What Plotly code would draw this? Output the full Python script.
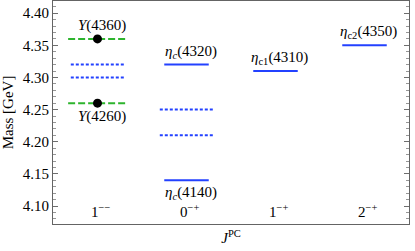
import plotly.graph_objects as go

categories = ["1<sup>−−</sup>", "0<sup>−+</sup>", "1<sup>−+</sup>", "2<sup>−+</sup>"]
cat_pos = [1, 2, 3, 4]
cat_label_mass = 4.093

# experimental Y states (green dashed with dots)
exp_cat = [1, 1]
exp_mass = [4.36, 4.26]
exp_labels = ["<i>Y</i>(4360)", "<i>Y</i>(4260)"]
exp_label_side = [1, -1]

# predicted levels, solid
solid_cat = [2, 2, 3, 4]
solid_mass = [4.32, 4.14, 4.31, 4.35]
solid_labels = ["<i>η</i><sub><i>c</i></sub>(4320)", "<i>η</i><sub><i>c</i></sub>(4140)",
                "<i>η</i><sub>c1</sub>(4310)", "<i>η</i><sub>c2</sub>(4350)"]
solid_label_side = [1, -1, 1, 1]

# predicted levels, dotted
dot_cat = [1, 1, 2, 2]
dot_mass = [4.32, 4.30, 4.25, 4.21]

GREEN = "rgb(45,180,45)"
BLUE = "rgb(35,65,255)"
FONT = "Liberation Serif"

fig = go.Figure()

def add_level(c, m, color, dash, half):
    fig.add_trace(go.Scatter(x=[c - half, c + half], y=[m, m], mode="lines",
                             line=dict(color=color, width=2, dash=dash),
                             showlegend=False, hoverinfo="skip"))

for c, m in zip(dot_cat, dot_mass):
    add_level(c, m, BLUE, "3px,2px", 0.3)
for c, m in zip(solid_cat, solid_mass):
    add_level(c, m, BLUE, "solid", 0.25)
for c, m in zip(exp_cat, exp_mass):
    add_level(c, m, GREEN, "7px,3px", 0.33)

fig.add_trace(go.Scatter(x=exp_cat, y=exp_mass, mode="markers",
                         marker=dict(color="black", size=9),
                         showlegend=False, hoverinfo="skip"))

for c, m, t, s in zip(exp_cat + solid_cat, exp_mass + solid_mass,
                      exp_labels + solid_labels, exp_label_side + solid_label_side):
    fig.add_annotation(x=c + 0.05, y=m, text=t, showarrow=False,
                       yshift=13 * s, font=dict(size=15, color="black", family=FONT))

for c, t in zip(cat_pos, categories):
    fig.add_annotation(x=c + 0.03, y=cat_label_mass, text=t, showarrow=False,
                       font=dict(size=15, color="black", family=FONT))

fig.update_layout(
    template="none",
    width=415, height=251,
    margin=dict(l=53, r=6, t=1, b=27),
    plot_bgcolor="white", paper_bgcolor="white",
    font=dict(family=FONT, size=15, color="black"),
    xaxis=dict(range=[0.5, 4.5], showticklabels=False, ticks="", showgrid=False,
               zeroline=False, showline=True, linecolor="rgb(100,100,100)",
               linewidth=1, mirror=True,
               title=dict(text="<i>J</i><sup>PC</sup>", standoff=8,
                          font=dict(size=15, color="black", family=FONT))),
    yaxis=dict(range=[4.072, 4.419], tickvals=[4.10, 4.15, 4.20, 4.25, 4.30, 4.35, 4.40],
               ticktext=["4.10", "4.15", "4.20", "4.25", "4.30", "4.35", "4.40"],
               ticks="inside", ticklen=5, tickcolor="rgb(110,110,110)", tickwidth=1,
               tickfont=dict(size=15, color="black", family=FONT),
               minor=dict(dtick=0.01, tick0=4.0, ticks="inside", ticklen=3,
                          tickcolor="rgb(150,150,150)", showgrid=False),
               showgrid=False, zeroline=False, showline=True,
               linecolor="rgb(100,100,100)", linewidth=1, mirror="ticks",
               title=dict(text="Mass [GeV]", standoff=8,
                          font=dict(size=15, color="black", family=FONT))),
)

fig.write_html("out.html", config={"displayModeBar": False},
               post_script="document.body.style.margin='0';document.body.style.padding='0';")
